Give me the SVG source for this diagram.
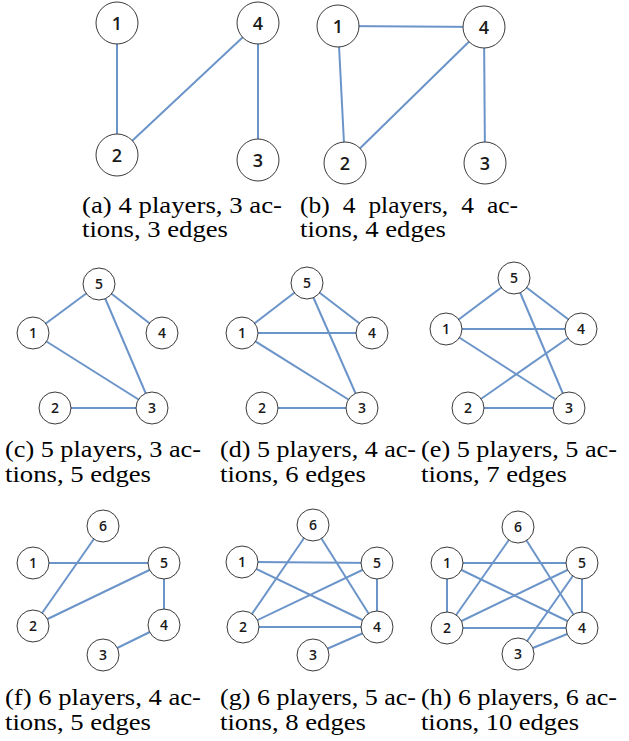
<svg xmlns="http://www.w3.org/2000/svg" width="629" height="741" viewBox="0 0 629 741">
  <style>
    .edge { stroke: #6b94c9; stroke-width: 2; fill: none; }
    .node circle { fill: #ffffff; stroke: #3a3a3a; stroke-width: 1; }
    .node text { font-family: "Open Sans", "Liberation Sans", sans-serif; font-weight: 600; fill: #1a1a1a; text-anchor: middle; }
    .big text { font-size: 18px; }
    .small text { font-size: 14px; }
    .cap text { font-family: "Liberation Serif", "Times New Roman", serif; font-size: 23px; fill: #000000; }
  </style>

  <!-- connectors -->
  <g id="connectors">
    <!-- (a) -->
    <line class="edge" x1="117" y1="23" x2="117" y2="155"/>
    <line class="edge" x1="117" y1="155" x2="258" y2="23"/>
    <line class="edge" x1="258" y1="23" x2="258" y2="160"/>
    <!-- (b) -->
    <line class="edge" x1="338" y1="26" x2="484" y2="27"/>
    <line class="edge" x1="338" y1="26" x2="345" y2="163"/>
    <line class="edge" x1="345" y1="163" x2="484" y2="27"/>
    <line class="edge" x1="484" y1="27" x2="485" y2="163"/>
    <!-- (c) -->
    <line class="edge" x1="99" y1="284" x2="33" y2="333"/>
    <line class="edge" x1="99" y1="284" x2="162" y2="333"/>
    <line class="edge" x1="99" y1="284" x2="152" y2="408"/>
    <line class="edge" x1="33" y1="333" x2="152" y2="408"/>
    <line class="edge" x1="55" y1="408" x2="152" y2="408"/>
    <!-- (d) -->
    <line class="edge" x1="242" y1="333" x2="307" y2="283"/>
    <line class="edge" x1="307" y1="283" x2="372" y2="333"/>
    <line class="edge" x1="242" y1="333" x2="372" y2="333"/>
    <line class="edge" x1="307" y1="283" x2="362" y2="408"/>
    <line class="edge" x1="242" y1="333" x2="362" y2="408"/>
    <line class="edge" x1="262" y1="408" x2="362" y2="408"/>
    <!-- (e) -->
    <line class="edge" x1="446" y1="329" x2="514" y2="278"/>
    <line class="edge" x1="514" y1="278" x2="581" y2="329"/>
    <line class="edge" x1="446" y1="329" x2="581" y2="329"/>
    <line class="edge" x1="514" y1="278" x2="569" y2="408"/>
    <line class="edge" x1="446" y1="329" x2="569" y2="408"/>
    <line class="edge" x1="468" y1="408" x2="581" y2="329"/>
    <line class="edge" x1="468" y1="408" x2="569" y2="408"/>
    <!-- (f) -->
    <line class="edge" x1="33" y1="563" x2="164" y2="563"/>
    <line class="edge" x1="103" y1="526" x2="33" y2="626"/>
    <line class="edge" x1="33" y1="626" x2="164" y2="563"/>
    <line class="edge" x1="164" y1="563" x2="164" y2="625"/>
    <line class="edge" x1="164" y1="625" x2="103" y2="655"/>
    <!-- (g) -->
    <line class="edge" x1="242" y1="562" x2="377" y2="563"/>
    <line class="edge" x1="242" y1="562" x2="377" y2="627"/>
    <line class="edge" x1="313" y1="525" x2="243" y2="627"/>
    <line class="edge" x1="313" y1="525" x2="377" y2="627"/>
    <line class="edge" x1="243" y1="627" x2="377" y2="563"/>
    <line class="edge" x1="243" y1="627" x2="377" y2="627"/>
    <line class="edge" x1="377" y1="563" x2="377" y2="627"/>
    <line class="edge" x1="377" y1="627" x2="313" y2="655"/>
    <!-- (h) -->
    <line class="edge" x1="447" y1="563" x2="582" y2="563"/>
    <line class="edge" x1="447" y1="563" x2="447" y2="628"/>
    <line class="edge" x1="447" y1="563" x2="582" y2="628"/>
    <line class="edge" x1="518" y1="527" x2="447" y2="628"/>
    <line class="edge" x1="518" y1="527" x2="582" y2="628"/>
    <line class="edge" x1="447" y1="628" x2="582" y2="563"/>
    <line class="edge" x1="447" y1="628" x2="582" y2="628"/>
    <line class="edge" x1="582" y1="563" x2="518" y2="654"/>
    <line class="edge" x1="582" y1="563" x2="582" y2="628"/>
    <line class="edge" x1="582" y1="628" x2="518" y2="654"/>
  </g>

  <!-- (a) nodes -->
  <g id="a-n1" class="node big"><circle cx="117" cy="23" r="21"/><text x="117" y="29.5">1</text></g>
  <g id="a-n4" class="node big"><circle cx="258" cy="23" r="21"/><text x="258" y="29.5">4</text></g>
  <g id="a-n2" class="node big"><circle cx="117" cy="155" r="21"/><text x="117" y="161.5">2</text></g>
  <g id="a-n3" class="node big"><circle cx="258" cy="160" r="21"/><text x="258" y="166.5">3</text></g>

  <!-- (b) nodes -->
  <g id="b-n1" class="node big"><circle cx="338" cy="26" r="21"/><text x="338" y="32.5">1</text></g>
  <g id="b-n4" class="node big"><circle cx="484" cy="27" r="21"/><text x="484" y="33.5">4</text></g>
  <g id="b-n2" class="node big"><circle cx="345" cy="163" r="21"/><text x="345" y="169.5">2</text></g>
  <g id="b-n3" class="node big"><circle cx="485" cy="163" r="21"/><text x="485" y="169.5">3</text></g>

  <!-- (c) nodes -->
  <g id="c-n5" class="node small"><circle cx="99" cy="284" r="16"/><text x="99" y="289">5</text></g>
  <g id="c-n1" class="node small"><circle cx="33" cy="333" r="16"/><text x="33" y="338">1</text></g>
  <g id="c-n4" class="node small"><circle cx="162" cy="333" r="16"/><text x="162" y="338">4</text></g>
  <g id="c-n2" class="node small"><circle cx="55" cy="408" r="16"/><text x="55" y="413">2</text></g>
  <g id="c-n3" class="node small"><circle cx="152" cy="408" r="16"/><text x="152" y="413">3</text></g>

  <!-- (d) nodes -->
  <g id="d-n5" class="node small"><circle cx="307" cy="283" r="16"/><text x="307" y="288">5</text></g>
  <g id="d-n1" class="node small"><circle cx="242" cy="333" r="16"/><text x="242" y="338">1</text></g>
  <g id="d-n4" class="node small"><circle cx="372" cy="333" r="16"/><text x="372" y="338">4</text></g>
  <g id="d-n2" class="node small"><circle cx="262" cy="408" r="16"/><text x="262" y="413">2</text></g>
  <g id="d-n3" class="node small"><circle cx="362" cy="408" r="16"/><text x="362" y="413">3</text></g>

  <!-- (e) nodes -->
  <g id="e-n5" class="node small"><circle cx="514" cy="278" r="16"/><text x="514" y="283">5</text></g>
  <g id="e-n1" class="node small"><circle cx="446" cy="329" r="16"/><text x="446" y="334">1</text></g>
  <g id="e-n4" class="node small"><circle cx="581" cy="329" r="16"/><text x="581" y="334">4</text></g>
  <g id="e-n2" class="node small"><circle cx="468" cy="408" r="16"/><text x="468" y="413">2</text></g>
  <g id="e-n3" class="node small"><circle cx="569" cy="408" r="16"/><text x="569" y="413">3</text></g>

  <!-- (f) nodes -->
  <g id="f-n6" class="node small"><circle cx="103" cy="526" r="16"/><text x="103" y="531">6</text></g>
  <g id="f-n1" class="node small"><circle cx="33" cy="563" r="16"/><text x="33" y="568">1</text></g>
  <g id="f-n5" class="node small"><circle cx="164" cy="563" r="16"/><text x="164" y="568">5</text></g>
  <g id="f-n2" class="node small"><circle cx="33" cy="626" r="16"/><text x="33" y="631">2</text></g>
  <g id="f-n4" class="node small"><circle cx="164" cy="625" r="16"/><text x="164" y="630">4</text></g>
  <g id="f-n3" class="node small"><circle cx="103" cy="655" r="16"/><text x="103" y="660">3</text></g>

  <!-- (g) nodes -->
  <g id="g-n6" class="node small"><circle cx="313" cy="525" r="16"/><text x="313" y="530">6</text></g>
  <g id="g-n1" class="node small"><circle cx="242" cy="562" r="16"/><text x="242" y="567">1</text></g>
  <g id="g-n5" class="node small"><circle cx="377" cy="563" r="16"/><text x="377" y="568">5</text></g>
  <g id="g-n2" class="node small"><circle cx="243" cy="627" r="16"/><text x="243" y="632">2</text></g>
  <g id="g-n4" class="node small"><circle cx="377" cy="627" r="16"/><text x="377" y="632">4</text></g>
  <g id="g-n3" class="node small"><circle cx="313" cy="655" r="16"/><text x="313" y="660">3</text></g>

  <!-- (h) nodes -->
  <g id="h-n6" class="node small"><circle cx="518" cy="527" r="16"/><text x="518" y="532">6</text></g>
  <g id="h-n1" class="node small"><circle cx="447" cy="563" r="16"/><text x="447" y="568">1</text></g>
  <g id="h-n5" class="node small"><circle cx="582" cy="563" r="16"/><text x="582" y="568">5</text></g>
  <g id="h-n2" class="node small"><circle cx="447" cy="628" r="16"/><text x="447" y="633">2</text></g>
  <g id="h-n4" class="node small"><circle cx="582" cy="628" r="16"/><text x="582" y="633">4</text></g>
  <g id="h-n3" class="node small"><circle cx="518" cy="654" r="16"/><text x="518" y="659">3</text></g>

  <!-- captions -->
  <g id="captions" class="cap">
    <text x="82" y="213" textLength="200" lengthAdjust="spacingAndGlyphs">(a) 4 players, 3 ac-</text>
    <text x="82" y="237" textLength="146" lengthAdjust="spacingAndGlyphs">tions, 3 edges</text>
    <text x="300" y="213" textLength="218" lengthAdjust="spacingAndGlyphs" word-spacing="6">(b) 4 players, 4 ac-</text>
    <text x="300" y="237" textLength="146" lengthAdjust="spacingAndGlyphs">tions, 4 edges</text>

    <text x="5" y="457" textLength="196" lengthAdjust="spacingAndGlyphs">(c) 5 players, 3 ac-</text>
    <text x="5" y="482" textLength="146" lengthAdjust="spacingAndGlyphs">tions, 5 edges</text>
    <text x="220" y="457" textLength="196" lengthAdjust="spacingAndGlyphs">(d) 5 players, 4 ac-</text>
    <text x="220" y="482" textLength="146" lengthAdjust="spacingAndGlyphs">tions, 6 edges</text>
    <text x="421" y="457" textLength="196" lengthAdjust="spacingAndGlyphs">(e) 5 players, 5 ac-</text>
    <text x="421" y="482" textLength="146" lengthAdjust="spacingAndGlyphs">tions, 7 edges</text>

    <text x="5" y="705" textLength="196" lengthAdjust="spacingAndGlyphs">(f) 6 players, 4 ac-</text>
    <text x="5" y="730" textLength="146" lengthAdjust="spacingAndGlyphs">tions, 5 edges</text>
    <text x="220" y="705" textLength="196" lengthAdjust="spacingAndGlyphs">(g) 6 players, 5 ac-</text>
    <text x="220" y="730" textLength="146" lengthAdjust="spacingAndGlyphs">tions, 8 edges</text>
    <text x="421" y="705" textLength="196" lengthAdjust="spacingAndGlyphs">(h) 6 players, 6 ac-</text>
    <text x="421" y="730" textLength="158" lengthAdjust="spacingAndGlyphs">tions, 10 edges</text>
  </g>
</svg>
